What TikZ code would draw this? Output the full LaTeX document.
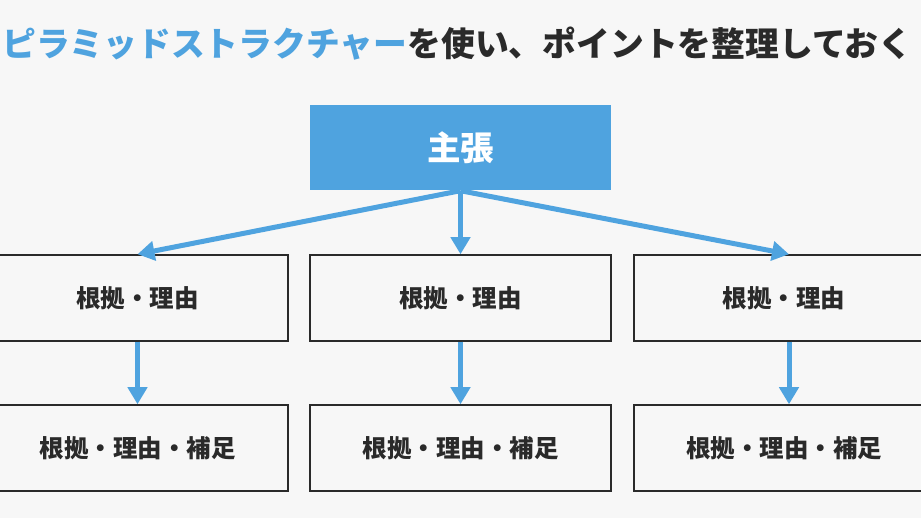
\documentclass[tikz,border=0pt]{standalone}
\usepackage{fontspec}
\setmainfont{Noto Sans CJK JP}
\usetikzlibrary{arrows.meta}
\definecolor{bg}{HTML}{F7F7F7}
\definecolor{accent}{HTML}{4FA3DF}
\definecolor{ink}{HTML}{2A2A2A}
\tikzset{
  title/.style={anchor=west,inner sep=0pt,font=\fontsize{33.8}{34}\selectfont\bfseries},
  mainbox/.style={fill=accent,draw=none,minimum width=301pt,minimum height=85pt,inner sep=0pt,text=white,font=\fontsize{33.5}{34}\selectfont\bfseries},
  subbox/.style={draw=ink,line width=2pt,fill=bg,minimum width=301pt,minimum height=85.5pt,inner sep=0pt,text=ink,font=\fontsize{24.5}{25}\selectfont\bfseries},
  flow/.style={draw=accent,line width=5pt,-{Triangle[width=19pt,length=17pt]},color=accent}
}
\begin{document}
\begin{tikzpicture}[x=1pt,y=-1pt]
\fill[bg] (0,0) rectangle (921,518);
\useasboundingbox (0,0) rectangle (921,518);
\node[title] (t) at (2,44) {\textcolor{accent}{ピラミッドストラクチャー}\textcolor{ink}{を使い、ポイントを整理しておく}};
\node[mainbox] (m) at (460.5,148) {主張};
\node[subbox] (a1) at (137.5,298) {根拠・理由};
\node[subbox] (b1) at (460.5,298) {根拠・理由};
\node[subbox] (c1) at (784,298) {根拠・理由};
\node[subbox] (a2) at (137.5,448) {根拠・理由・補足};
\node[subbox] (b2) at (460.5,448) {根拠・理由・補足};
\node[subbox] (c2) at (784,448) {根拠・理由・補足};
\draw[flow] (m.south) -- (a1.north);
\draw[flow] (m.south) -- (b1.north);
\draw[flow] (m.south) -- ([xshift=5pt]c1.north);
\draw[flow] (a1.south) -- (a2.north);
\draw[flow] (b1.south) -- (b2.north);
\draw[flow] ([xshift=5pt]c1.south) -- ([xshift=5pt]c2.north);
\end{tikzpicture}
\end{document}
